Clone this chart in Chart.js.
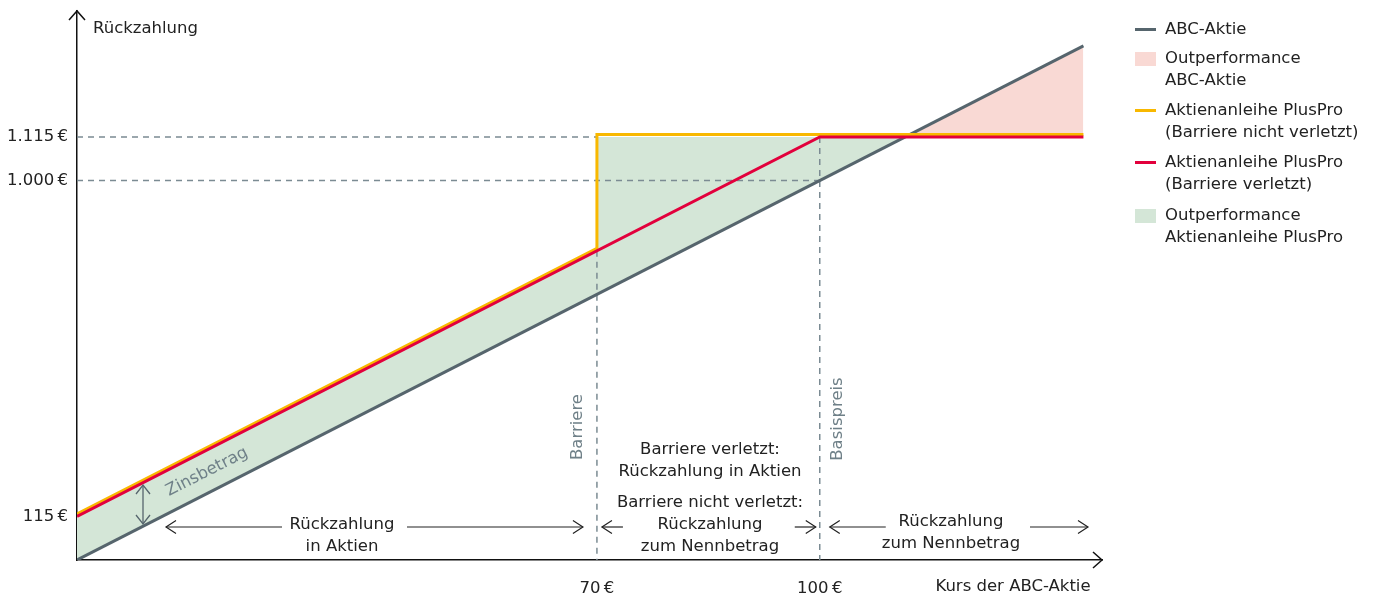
<!DOCTYPE html>
<html>
<head>
<meta charset="utf-8">
<script src="https://cdn.jsdelivr.net/npm/chart.js@4.4.1/dist/chart.umd.min.js"></script>
<style>
  html, body { margin: 0; padding: 0; background: #fff; }
  #wrap { position: relative; width: 1375px; height: 597px; }
  #legend { position: absolute; left: 1135px; top: 0; font-family: "DejaVu Sans", sans-serif; font-size: 16.5px; color: #222; }
  .item { position: absolute; left: 0; width: 240px; }
  .sw { position: absolute; left: 0; width: 21px; }
  .txt { position: absolute; left: 30px; line-height: 22px; white-space: nowrap; }
</style>
</head>
<body>
<div id="wrap">
  <canvas id="chart" width="1375" height="597"></canvas>
  <div id="legend"></div>
</div>
<script>
// Kurs der ABC-Aktie (x) und Rückzahlung in € (y)
const abcX = [0, 135.5];
const abcY = [0, 1355];
const plusProOkX = [0, 70, 70, 135.5];      // Barriere nicht verletzt
const plusProOkY = [115, 815, 1115, 1115];
const plusProHitX = [0, 100, 135.5];        // Barriere verletzt
const plusProHitY = [115, 1115, 1115];
const xTicks = [70, 100];
const yTicks = [115, 1000, 1115];
const barriere = 70;
const basispreis = 100;
const nennbetrag = 1000;
const maxRueckzahlung = 1115;

const grey = '#56656d';
const yellow = '#f8b800';
const red = '#e2003c';
const green = '#d4e6d7';
const pink = '#f9d9d4';
const dashGrey = '#7b8b93';
const labelGrey = '#6f8088';
const font = '"DejaVu Sans", sans-serif';
const fontSize = 16.5;

const pts = (xs, ys) => xs.map((x, i) => ({ x: x, y: ys[i] }));

function euro(v) {
  const s = v >= 1000 ? Math.floor(v / 1000) + '.' + String(v % 1000).padStart(3, '0') : String(v);
  return s + '\u2009€';
}

function head(ctx, x, y, dx, dy, len, half) {
  // open chevron; (dx, dy) is the pointing direction
  const px = -dy, py = dx;
  ctx.beginPath();
  ctx.moveTo(x - dx * len + px * half, y - dy * len + py * half);
  ctx.lineTo(x, y);
  ctx.lineTo(x - dx * len - px * half, y - dy * len - py * half);
  ctx.stroke();
}

function hLine(ctx, x1, x2, y) {
  ctx.beginPath();
  ctx.moveTo(x1, y);
  ctx.lineTo(x2, y);
  ctx.stroke();
}

const decor = {
  id: 'decor',
  beforeDatasetDraw(chart, args) {
    const ctx = chart.ctx;
    if (args.index === 0) {
      // dashed helper lines
      const xs = chart.scales.x, ys = chart.scales.y;
      const left = chart.chartArea.left, bottom = chart.chartArea.bottom;
      ctx.save();
      ctx.strokeStyle = dashGrey;
      ctx.lineWidth = 1.5;
      ctx.setLineDash([6, 5]);
      hLine(ctx, left, xs.getPixelForValue(barriere), ys.getPixelForValue(maxRueckzahlung));
      hLine(ctx, left, xs.getPixelForValue(basispreis), ys.getPixelForValue(nennbetrag));
      ctx.beginPath();
      ctx.moveTo(xs.getPixelForValue(barriere), ys.getPixelForValue(plusProOkY[1]));
      ctx.lineTo(xs.getPixelForValue(barriere), bottom);
      ctx.moveTo(xs.getPixelForValue(basispreis), ys.getPixelForValue(maxRueckzahlung));
      ctx.lineTo(xs.getPixelForValue(basispreis), bottom);
      ctx.stroke();
      ctx.restore();
    }
    if (args.index === 2) {
      ctx.save();
      ctx.translate(0, -2.5);
    }
  },
  afterDatasetDraw(chart, args) {
    if (args.index === 2) chart.ctx.restore();
  },
  afterDraw(chart) {
    const ctx = chart.ctx;
    const a = chart.chartArea;
    const xs = chart.scales.x;
    const xb = xs.getPixelForValue(barriere);
    const xk = xs.getPixelForValue(basispreis);
    ctx.save();

    // axis arrow heads
    ctx.strokeStyle = '#111';
    ctx.lineWidth = 1.5;
    head(ctx, a.left, a.top, 0, -1, 9, 8);
    head(ctx, a.right, a.bottom, 1, 0, 9, 8);

    // axis titles
    ctx.fillStyle = '#222';
    ctx.font = fontSize + 'px ' + font;
    ctx.textBaseline = 'middle';
    ctx.textAlign = 'left';
    ctx.fillText('Rückzahlung', 93, 29);
    ctx.textAlign = 'center';
    ctx.fillText('Kurs der ABC-Aktie', 1013, 587);

    // range arrows
    const ay = a.bottom - 33;
    ctx.strokeStyle = '#222';
    ctx.lineWidth = 1.2;
    hLine(ctx, 166, 282, ay);
    hLine(ctx, 407, xb - 14, ay);
    head(ctx, 166, ay, -1, 0, 10, 6.5);
    head(ctx, xb - 14, ay, 1, 0, 10, 6.5);
    hLine(ctx, xb + 5, xb + 26, ay);
    head(ctx, xb + 5, ay, -1, 0, 10, 6.5);
    hLine(ctx, xk - 25, xk - 4, ay);
    head(ctx, xk - 4, ay, 1, 0, 10, 6.5);
    hLine(ctx, xk + 10, xk + 66, ay);
    head(ctx, xk + 10, ay, -1, 0, 10, 6.5);
    hLine(ctx, 1030, 1088, ay);
    head(ctx, 1088, ay, 1, 0, 10, 6.5);

    ctx.fillText('Rückzahlung', 342, 525);
    ctx.fillText('in Aktien', 342, 547);
    ctx.fillText('Barriere verletzt:', 710, 450);
    ctx.fillText('Rückzahlung in Aktien', 710, 472);
    ctx.fillText('Barriere nicht verletzt:', 710, 503);
    ctx.fillText('Rückzahlung', 710, 525);
    ctx.fillText('zum Nennbetrag', 710, 547);
    ctx.fillText('Rückzahlung', 951, 522);
    ctx.fillText('zum Nennbetrag', 951, 544);

    // grey rotated labels
    ctx.fillStyle = labelGrey;
    ctx.save();
    ctx.translate(xb - 19, 427);
    ctx.rotate(-Math.PI / 2);
    ctx.fillText('Barriere', 0, 0);
    ctx.restore();
    ctx.save();
    ctx.translate(xk + 18, 419);
    ctx.rotate(-Math.PI / 2);
    ctx.fillText('Basispreis', 0, 0);
    ctx.restore();
    ctx.save();
    ctx.translate(207, 472);
    ctx.rotate(-27 * Math.PI / 180);
    ctx.fillText('Zinsbetrag', 0, 0);
    ctx.restore();

    // Zinsbetrag double arrow
    ctx.strokeStyle = grey;
    ctx.lineWidth = 1.3;
    ctx.beginPath();
    ctx.moveTo(143, 485);
    ctx.lineTo(143, 524);
    ctx.stroke();
    head(ctx, 143, 485, 0, -1, 9, 7);
    head(ctx, 143, 524, 0, 1, 9, 7);
    ctx.restore();
  }
};

const ctx = document.getElementById('chart').getContext('2d');
new Chart(ctx, {
  type: 'line',
  data: {
    datasets: [
      {
        label: 'ABC-Aktie',
        data: pts(abcX, abcY),
        borderColor: grey,
        borderWidth: 3,
        pointRadius: 0,
        fill: false,
        order: 2
      },
      {
        label: 'Outperformance',
        data: pts(plusProOkX, plusProOkY),
        borderWidth: 0,
        borderColor: 'rgba(0,0,0,0)',
        pointRadius: 0,
        fill: { target: 0, above: green, below: pink },
        order: 4
      },
      {
        label: 'Aktienanleihe PlusPro (Barriere nicht verletzt)',
        data: pts(plusProOkX, plusProOkY),
        borderColor: yellow,
        borderWidth: 3,
        pointRadius: 0,
        fill: false,
        order: 1
      },
      {
        label: 'Aktienanleihe PlusPro (Barriere verletzt)',
        data: pts(plusProHitX, plusProHitY),
        borderColor: red,
        borderWidth: 3,
        pointRadius: 0,
        fill: false,
        order: 0
      }
    ]
  },
  options: {
    responsive: false,
    animation: false,
    layout: { padding: { left: 0, top: 11, right: 273, bottom: 0 } },
    plugins: {
      legend: { display: false },
      tooltip: { enabled: false }
    },
    scales: {
      x: {
        type: 'linear',
        min: 0,
        max: 138,
        afterBuildTicks: s => { s.ticks = xTicks.map(v => ({ value: v })); },
        afterFit: s => { s.height = 37; s.paddingLeft = 0; s.paddingRight = 0; },
        grid: { display: false, drawTicks: false },
        border: { display: true, color: '#111', width: 1.5 },
        ticks: {
          autoSkip: false,
          maxRotation: 0,
          padding: 19,
          color: '#222',
          font: { family: font, size: fontSize },
          callback: v => euro(v)
        }
      },
      y: {
        min: 0,
        max: 1447,
        afterBuildTicks: s => { s.ticks = yTicks.map(v => ({ value: v })); },
        afterFit: s => { s.width = 77; s.paddingTop = 0; s.paddingBottom = 0; },
        grid: { display: false, drawTicks: false },
        border: { display: true, color: '#111', width: 1.5 },
        ticks: {
          autoSkip: false,
          padding: 9,
          color: '#222',
          font: { family: font, size: fontSize },
          callback: v => euro(v)
        }
      }
    }
  },
  plugins: [decor]
});

// legend
const legendItems = [
  { kind: 'line', color: grey, lines: ['ABC-Aktie'], top: 18 },
  { kind: 'box', color: pink, lines: ['Outperformance', 'ABC-Aktie'], top: 47 },
  { kind: 'line', color: yellow, lines: ['Aktienanleihe PlusPro', '(Barriere nicht verletzt)'], top: 99 },
  { kind: 'line', color: red, lines: ['Aktienanleihe PlusPro', '(Barriere verletzt)'], top: 151 },
  { kind: 'box', color: green, lines: ['Outperformance', 'Aktienanleihe PlusPro'], top: 204 }
];
const legend = document.getElementById('legend');
legendItems.forEach(it => {
  const d = document.createElement('div');
  d.className = 'item';
  d.style.top = it.top + 'px';
  const sw = document.createElement('div');
  sw.className = 'sw';
  sw.style.background = it.color;
  if (it.kind === 'line') { sw.style.height = '3px'; sw.style.top = '10px'; }
  else { sw.style.height = '14px'; sw.style.top = '5px'; }
  const t = document.createElement('div');
  t.className = 'txt';
  t.innerHTML = it.lines.join('<br>');
  d.appendChild(sw);
  d.appendChild(t);
  legend.appendChild(d);
});
</script>
</body>
</html>
